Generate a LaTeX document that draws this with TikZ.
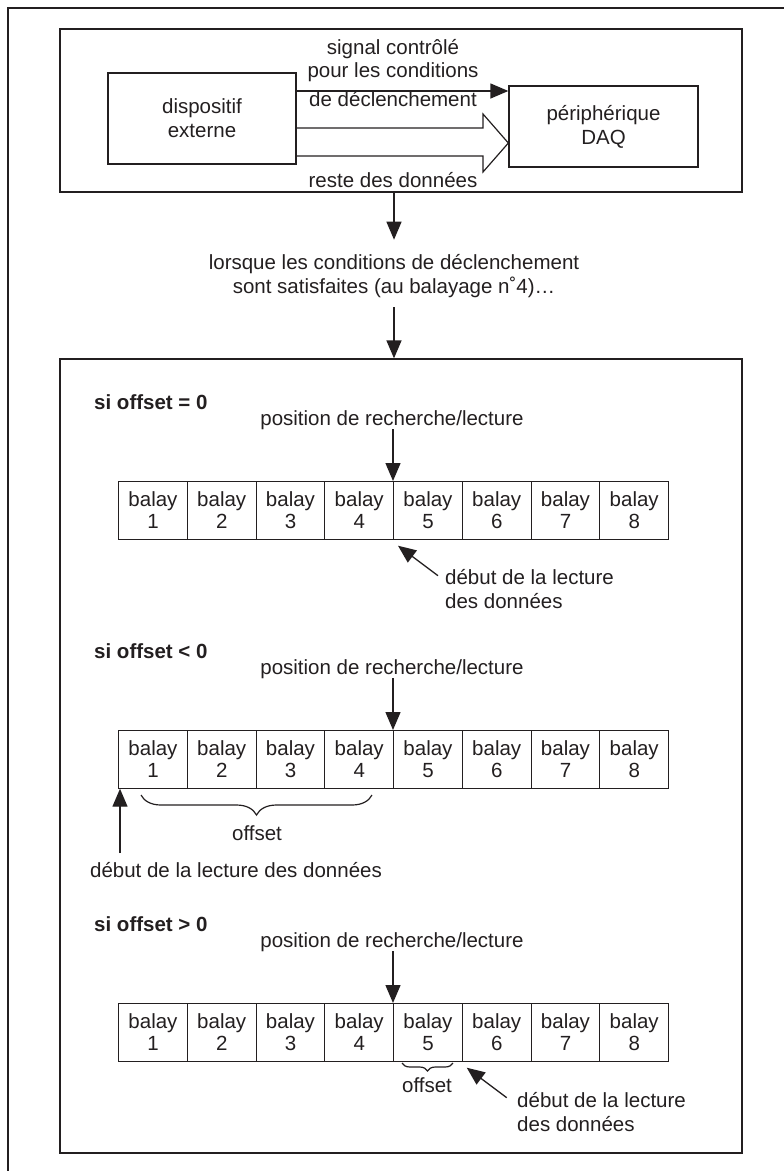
\documentclass[tikz,border=0pt]{standalone}
\usepackage{fontspec}
\setmainfont{Liberation Sans}
\usetikzlibrary{arrows.meta,decorations.pathreplacing}
\definecolor{ink}{RGB}{35,31,32}
\newcommand{\txtfont}{\fontsize{20.5}{24}\selectfont}
\begin{document}
\begin{tikzpicture}[x=1pt,y=-1pt,
  txt/.style={font=\txtfont, text=ink, inner sep=0pt, anchor=base},
  lefttxt/.style={txt, anchor=base west},
  head/.style={font=\txtfont\bfseries, text=ink, inner sep=0pt, anchor=base west},
  frame/.style={draw=ink, line width=1.3pt, inner sep=0pt},
  box/.style={draw=ink, line width=1.3pt, inner sep=0pt, align=center, font=\txtfont, text=ink},
  cell/.style={draw=ink, line width=1.2pt, minimum width=68.75pt, minimum height=57.5pt,
    inner sep=0pt, align=center, font=\fontsize{20.5}{22}\selectfont, text=ink, anchor=north west},
  arr/.style={draw=ink, line width=1.3pt, -{Triangle[length=18pt,width=15pt]}},
  brc/.style={draw=ink, line width=1.2pt, decorate, decoration={brace, mirror, amplitude=#1}},
]
\useasboundingbox (0,0) rectangle (784,1171);
\clip (0,0) rectangle (784,1171);

% page frame (runs off the right and bottom edges)
\draw[ink, line width=2pt] (8,1190) -- (8,8) -- (800,8);

% ---------- upper block: device and DAQ ----------
\node[frame, minimum width=682pt, minimum height=163pt] (top) at (401,110.5) {};
\node[box, minimum width=188pt, minimum height=91pt] (dev) at (202,118.5) {dispositif\\externe};
\node[box, minimum width=189pt, minimum height=81pt] (daq) at (603.5,126.5) {périphérique\\DAQ};

\node[txt] (sig1) at (393,54) {signal contrôlé};
\node[txt] (sig2) at (393,77) {pour les conditions};
\node[txt] (sig3) at (393,106) {de déclenchement};
\coordinate (sigy) at (0,91);
\draw[arr] (dev.east |- sigy) -- (daq.west |- sigy);

% hollow data arrow
\coordinate (bodyT) at (483,128);
\coordinate (bodyB) at (483,156);
\coordinate (headT) at (483,114);
\coordinate (headB) at (483,172);
\coordinate (tipy) at (0,143);
\draw[ink, line width=1.2pt, line join=miter]
  (dev.east |- bodyT) -- (bodyT) -- (headT) -- (daq.west |- tipy) -- (headB) -- (bodyB) -- (dev.east |- bodyB);
\node[txt] (rest) at (393,187) {reste des données};

% ---------- trigger condition ----------
\node[txt] (cond1) at (394,269) {lorsque les conditions de déclenchement};
\node[txt] (cond2) at (394,293) {sont satisfaites (au balayage n˚4)…};
\draw[arr] (top.south -| cond1.north) -- ([yshift=14pt]cond1.north);

% ---------- lower block ----------
\node[frame, minimum width=682pt, minimum height=794pt] (bot) at (401,756) {};
\draw[arr] ([yshift=-10pt]cond2.south) -- (cond2.south |- bot.north);

% case 1: offset = 0
\node[head] (h1) at (94,409) {si offset = 0};
\node[txt] (pos1) at (392,425) {position de recherche/lecture};
\foreach \i in {1,...,8}
  \node[cell] (ra\i) at ({118+(\i-1)*68.75},481) {balay\\\i};
\draw[arr] (pos1.south -| ra5.north west) -- (ra5.north west);
\coordinate (ta) at ([shift={(45,36)}]ra5.south west);
\draw[arr] (ta) -- ([shift={(5,6)}]ra5.south west);
\node[lefttxt] (la1) at (445,584) {début de la lecture};
\node[lefttxt] (la2) at (445,608) {des données};

% case 2: offset < 0
\node[head] (h2) at (94,658) {si offset < 0};
\node[txt] (pos2) at (392,674) {position de recherche/lecture};
\foreach \i in {1,...,8}
  \node[cell] (rb\i) at ({118+(\i-1)*68.75},730) {balay\\\i};
\draw[arr] (pos2.south -| rb5.north west) -- (rb5.north west);
\draw[brc=20pt] (141,795) -- (372,795);
\node[txt] (off2) at (257,840) {offset};
\node[txt] (lb) at (236,877) {début de la lecture des données};
\coordinate (tb) at (120,853);
\draw[arr] (tb) -- (tb |- rb1.south);

% case 3: offset > 0
\node[head] (h3) at (94,931) {si offset > 0};
\node[txt] (pos3) at (392,947) {position de recherche/lecture};
\foreach \i in {1,...,8}
  \node[cell] (rc\i) at ({118+(\i-1)*68.75},1003) {balay\\\i};
\draw[arr] (pos3.south -| rc5.north west) -- (rc5.north west);
\draw[brc=8pt] (402,1063) -- (453,1063);
\node[txt] (off3) at (427,1092) {offset};
\coordinate (tc) at ([shift={(45,36)}]rc6.south west);
\draw[arr] (tc) -- ([shift={(5,6)}]rc6.south west);
\node[lefttxt] (lc1) at (517,1107) {début de la lecture};
\node[lefttxt] (lc2) at (517,1131) {des données};
\end{tikzpicture}
\end{document}
